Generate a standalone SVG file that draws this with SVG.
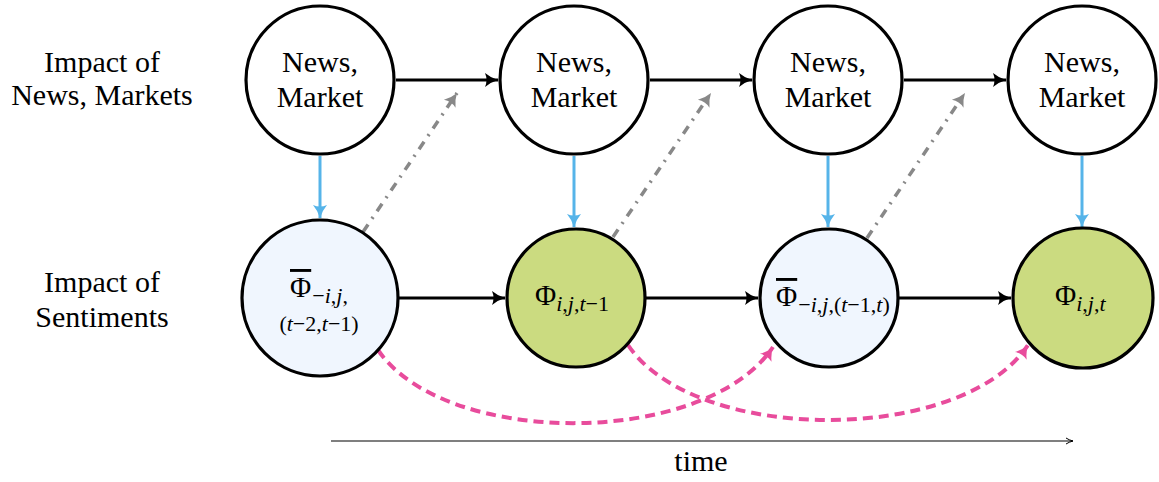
<svg xmlns="http://www.w3.org/2000/svg" width="1159" height="482" viewBox="0 0 1159 482">
<style>
text{fill:#000;font-family:"Liberation Serif",serif}
.lbl{font-size:30px;text-anchor:middle}
.nd{stroke:#000;stroke-width:3.2}
.top{fill:#fff}
.lb{fill:#F0F6FE}
.gr{fill:#CBDB80}
.blk{stroke:#000;stroke-width:3;fill:none}
.blu{stroke:#56B4E9;stroke-width:3;fill:none}
.gry{stroke:#888;stroke-width:3.5;fill:none;stroke-dasharray:9 7 2 7}
.pnk{stroke:#E84C9C;stroke-width:4;fill:none;stroke-dasharray:10 6}
.m{font-size:29px}
.s{font-size:22px}
.i{font-style:italic}
.bar{text-decoration:overline}
</style>
<defs>
<marker id="ab" markerUnits="userSpaceOnUse" markerWidth="16" markerHeight="16" refX="14" refY="8" orient="auto"><path d="M1,1 Q7,6 14,8 Q7,10 1,15 Q4,8 1,1z" fill="#000"/></marker>
<marker id="abl" markerUnits="userSpaceOnUse" markerWidth="16" markerHeight="16" refX="14" refY="8" orient="auto"><path d="M1,1 Q7,6 14,8 Q7,10 1,15 Q4,8 1,1z" fill="#56B4E9"/></marker>
<marker id="ag" markerUnits="userSpaceOnUse" markerWidth="16" markerHeight="16" refX="14" refY="8" orient="auto"><path d="M1,1 Q7,6 14,8 Q7,10 1,15 Q4,8 1,1z" fill="#888"/></marker>
<marker id="ap" markerUnits="userSpaceOnUse" markerWidth="16" markerHeight="16" refX="14" refY="8" orient="auto"><path d="M1,1 Q7,6 14,8 Q7,10 1,15 Q4,8 1,1z" fill="#E84C9C"/></marker>
<marker id="at" markerUnits="userSpaceOnUse" markerWidth="10" markerHeight="10" refX="8" refY="5" orient="auto"><path d="M1,2 Q4,4 8,5 Q4,6 1,8" fill="none" stroke="#000" stroke-width="1"/></marker>
</defs>

<g id="labels">
<text class="lbl" x="102" y="72">Impact of</text>
<text class="lbl" x="102" y="105">News, Markets</text>
<text class="lbl" x="102" y="292">Impact of</text>
<text class="lbl" x="102" y="327">Sentiments</text>
</g>

<g id="connectors">
<line class="blk" x1="396" y1="80" x2="498" y2="80" marker-end="url(#ab)"/>
<line class="blk" x1="650" y1="80" x2="752" y2="80" marker-end="url(#ab)"/>
<line class="blk" x1="904" y1="80" x2="1006" y2="80" marker-end="url(#ab)"/>
<line class="blu" x1="320" y1="156" x2="320" y2="218" marker-end="url(#abl)"/>
<line class="blu" x1="574" y1="156" x2="574" y2="227" marker-end="url(#abl)"/>
<line class="blu" x1="828" y1="156" x2="828" y2="227" marker-end="url(#abl)"/>
<line class="blu" x1="1082" y1="156" x2="1082" y2="227" marker-end="url(#abl)"/>
<line class="gry" x1="363" y1="232" x2="457" y2="93" marker-end="url(#ag)"/>
<line class="gry" x1="613" y1="237" x2="711" y2="93" marker-end="url(#ag)"/>
<line class="gry" x1="867" y1="238" x2="965" y2="93" marker-end="url(#ag)"/>
<line class="blk" x1="399" y1="298" x2="505" y2="298" marker-end="url(#ab)"/>
<line class="blk" x1="646" y1="298" x2="758" y2="298" marker-end="url(#ab)"/>
<line class="blk" x1="899" y1="298" x2="1011" y2="298" marker-end="url(#ab)"/>
<path class="pnk" d="M378,350 C445,448 705,448 773,347" marker-end="url(#ap)"/>
<path class="pnk" d="M628,345 C695,445 962,445 1028,345" marker-end="url(#ap)"/>
<line x1="331" y1="441" x2="1073" y2="441" stroke="#000" stroke-width="1.2" marker-end="url(#at)"/>
<text class="lbl" x="701" y="471">time</text>
</g>

<g id="n1"><circle class="nd top" cx="320" cy="80" r="74"/><text class="lbl" x="320" y="72">News,</text><text class="lbl" x="320" y="107">Market</text></g>
<g id="n2"><circle class="nd top" cx="574" cy="80" r="74"/><text class="lbl" x="574" y="72">News,</text><text class="lbl" x="574" y="107">Market</text></g>
<g id="n3"><circle class="nd top" cx="828" cy="80" r="74"/><text class="lbl" x="828" y="72">News,</text><text class="lbl" x="828" y="107">Market</text></g>
<g id="n4"><circle class="nd top" cx="1082" cy="80" r="74"/><text class="lbl" x="1082" y="72">News,</text><text class="lbl" x="1082" y="107">Market</text></g>

<g id="s1"><circle class="nd lb" cx="320" cy="298" r="78"/>
<text class="m" x="290" y="297"><tspan class="bar">Φ</tspan><tspan class="s" dx="1" dy="6">−<tspan class="i">i</tspan>,<tspan class="i">j</tspan>,</tspan></text>
<text class="s" x="319" y="331" text-anchor="middle">(<tspan class="i">t</tspan>−2,<tspan class="i">t</tspan>−1)</text>
</g>
<g id="s2"><circle class="nd gr" cx="576" cy="298" r="69"/>
<text class="m" x="535" y="305">Φ<tspan class="s" dy="6"><tspan class="i">i</tspan>,<tspan class="i">j</tspan>,<tspan class="i">t</tspan>−1</tspan></text>
</g>
<g id="s3"><circle class="nd lb" cx="829" cy="298" r="69"/>
<text class="m" x="776" y="306"><tspan class="bar">Φ</tspan><tspan class="s" dx="1" dy="6">−<tspan class="i">i</tspan>,<tspan class="i">j</tspan>,(<tspan class="i">t</tspan>−1,<tspan class="i">t</tspan>)</tspan></text>
</g>
<g id="s4"><circle class="nd gr" cx="1083" cy="298" r="70"/>
<text class="m" x="1055" y="305">Φ<tspan class="s" dy="6"><tspan class="i">i</tspan>,<tspan class="i">j</tspan>,<tspan class="i">t</tspan></tspan></text>
</g>
</svg>
